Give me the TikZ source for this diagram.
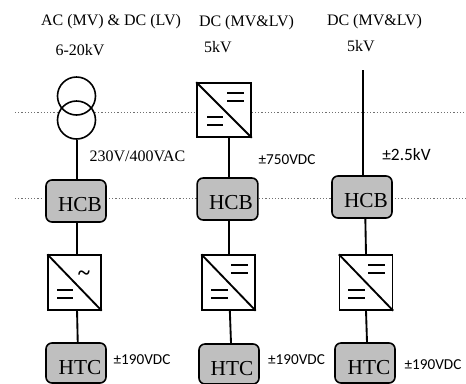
\documentclass[tikz,border=0pt]{standalone}
\usepackage{xcolor}
\usepackage{fontspec}
\setmainfont{Liberation Serif}
\newfontfamily\voltfont{Carlito}
\definecolor{CellGray}{HTML}{BFBFBF}
\definecolor{GridDot}{HTML}{707070}
\tikzset{
  cellbox/.style={draw=black,fill=CellGray,line width=1.2pt,rounded corners=4.5pt,inner sep=0pt},
  cellname/.style={font=\fontsize{16}{18}\selectfont,inner sep=0pt},
  convbox/.style={draw=black,fill=white,line width=1.2pt,inner sep=0pt},
  ringbox/.style={circle,draw=black,line width=1.2pt,minimum size=28.5pt,inner sep=0pt},
  wire/.style={line width=1.4pt},
  bar/.style={line width=1pt},
  gridline/.style={GridDot,line width=.9pt,dash pattern=on .9pt off 1.5pt},
  headtext/.style={font=\fontsize{12}{14}\selectfont,inner sep=0pt},
  volttext/.style={font=\voltfont\fontsize{11.4}{13}\selectfont,inner sep=0pt}
}
\begin{document}
\begin{tikzpicture}[x=.75pt,y=-.75pt]
\path[use as bounding box] (0,0) rectangle (466,383);
% dotted levels
\draw[gridline] (15,112.5) -- (466,112.5);
\draw[gridline] (15,198.5) -- (43,198.5);
\draw[gridline] (109,198.5) -- (197,198.5);
\draw[gridline] (259,198.5) -- (331,198.5);
\draw[gridline] (395,198.5) -- (466,198.5);
% heads
\node[headtext] (heada) at (111,22) {AC (MV) \& DC (LV)};
\node[headtext] (kva) at (80,50) {6-20kV};
\node[headtext] (headb) at (246.5,23) {DC (MV\&LV)};
\node[headtext] (kvb) at (218,47) {5kV};
\node[headtext] (headc) at (374.5,22) {DC (MV\&LV)};
\node[headtext] (kvc) at (361,46) {5kV};
\node[headtext] (lowa) at (137.5,156) {230V/400VAC};
\node[volttext] (lowb) at (287,160) {\textpm750VDC};
\node[volttext,font=\voltfont\fontsize{13}{15}\selectfont] (lowc) at (406.5,155) {\textpm2.5kV};
% transformer
\node[ringbox,draw=none,fill=white] (trafotop) at (76.5,96) {};
\node[ringbox,draw=none,fill=white] (trafobot) at (76.5,120) {};
\node[ringbox] (ringtop) at (76.5,96) {};
\node[ringbox] (ringbot) at (76.5,120) {};
% cells
\node[cellbox,minimum width=45pt,minimum height=31.5pt] (hcba) at (76,201) {};
\node[cellbox,minimum width=45.5pt,minimum height=31.5pt] (hcbb) at (227.5,199) {};
\node[cellbox,minimum width=45pt,minimum height=31.5pt] (hcbc) at (362,197) {};
\node[cellbox,minimum width=45pt,minimum height=30pt] (htca) at (76,363) {};
\node[cellbox,minimum width=45pt,minimum height=30pt] (htcb) at (229,364) {};
\node[cellbox,minimum width=45pt,minimum height=30pt] (htcc) at (365,363) {};
\node[cellname] (hcbatext) at (80,205) {HCB};
\node[cellname] (hcbbtext) at (231,203) {HCB};
\node[cellname] (hcbctext) at (366,201) {HCB};
\node[cellname] (htcatext) at (80,368) {HTC};
\node[cellname] (htcbtext) at (232,369) {HTC};
\node[cellname] (htcctext) at (369,368) {HTC};
\node[volttext] (dca) at (142,360) {\textpm190VDC};
\node[volttext] (dcb) at (296.5,360) {\textpm190VDC};
\node[volttext] (dcc) at (433,365) {\textpm190VDC};
% converters
\node[convbox,minimum width=39.5pt,minimum height=41pt] (conva) at (74.5,282.5) {};
\node[convbox,minimum width=40.5pt,minimum height=40.5pt] (convb) at (224,110) {};
\node[convbox,minimum width=39.5pt,minimum height=41pt] (convc) at (228.5,282.5) {};
\node[convbox,minimum width=39.5pt,minimum height=41pt] (convd) at (366,282.5) {};
\foreach \c in {conva,convb,convc,convd}{
  \draw[wire] (\c.north west) -- (\c.south east);
}
\node[font=\fontsize{17}{17}\selectfont\bfseries,inner sep=0pt] (tilde) at (84,276) {\textasciitilde};
% bars
\draw[bar] (57,290) -- (73,290);
\draw[bar] (57,298) -- (73,298);
\draw[bar] (207,117) -- (223,117);
\draw[bar] (207,125) -- (223,125);
\draw[bar] (227,93) -- (244,93);
\draw[bar] (227,101) -- (244,101);
\draw[bar] (211,290) -- (228,290);
\draw[bar] (211,298) -- (228,298);
\draw[bar] (231,265) -- (248,265);
\draw[bar] (231,273) -- (248,273);
\draw[bar] (348,290) -- (365,290);
\draw[bar] (348,298) -- (365,298);
\draw[bar] (368,265) -- (385,265);
\draw[bar] (368,273) -- (385,273);
% wires
\coordinate (feed) at (363,70);
\draw[wire] ([xshift=.4pt]ringbot.south) -- ([xshift=.4pt]ringbot.south |- hcba.north);
\draw[wire] ([xshift=1.2pt]hcbb.north |- convb.south) -- ([xshift=1.2pt]hcbb.north);
\draw[wire] (feed) -- (feed |- hcbc.north);
\draw[wire] ([xshift=1pt]hcba.south) -- ([xshift=1pt]hcba.south |- conva.north);
\draw[wire] ([xshift=1.2pt]hcbb.south) -- ([xshift=1.2pt]hcbb.south |- convc.north);
\draw[wire] ([xshift=2.5pt]hcbc.south) -- ([xshift=3pt]hcbc.south |- convd.north);
\draw[wire] ([xshift=1.9pt]conva.south) -- ([xshift=1.3pt]htca.north);
\draw[wire] ([xshift=1pt]convc.south) -- ([xshift=1.5pt]htcb.north);
\draw[wire] (convd.south) -- ([xshift=1.5pt]htcc.north);
\end{tikzpicture}
\end{document}
